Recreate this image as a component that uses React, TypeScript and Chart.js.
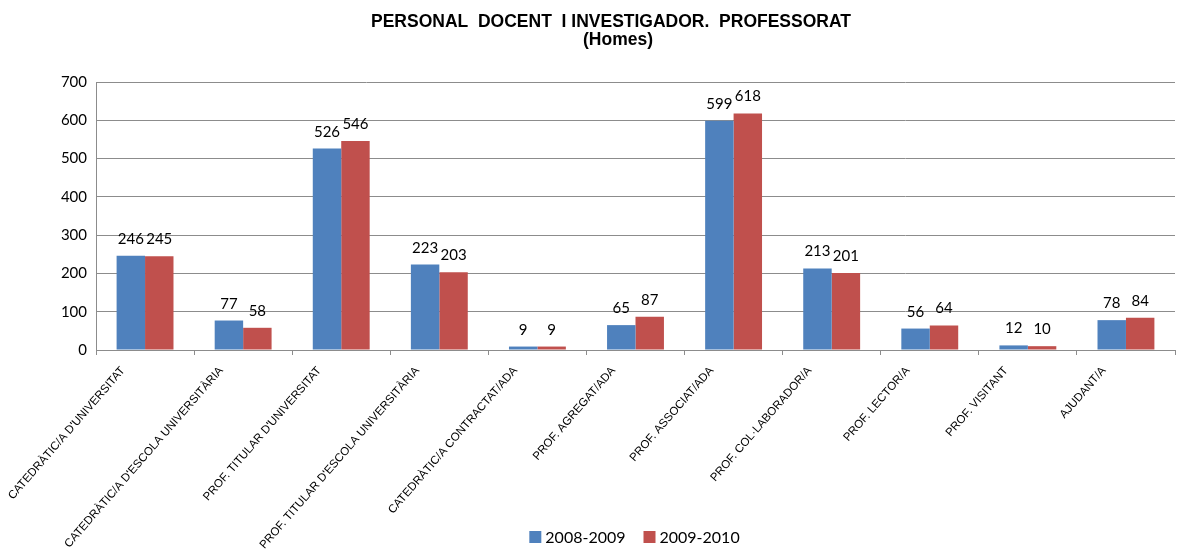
import React, { useEffect, useRef } from 'react';
import { Chart, registerables } from 'chart.js';

Chart.register(...registerables);

const titleLines = ['PERSONAL  DOCENT  I INVESTIGADOR.  PROFESSORAT', '(Homes)'];

const categories = [
  "CATEDRÀTIC/A D'UNIVERSITAT",
  "CATEDRÀTIC/A D'ESCOLA UNIVERSITÀRIA",
  "PROF. TITULAR D'UNIVERSITAT",
  "PROF. TITULAR D'ESCOLA UNIVERSITÀRIA",
  'CATEDRÀTIC/A CONTRACTAT/ADA',
  'PROF. AGREGAT/ADA',
  'PROF. ASSOCIAT/ADA',
  'PROF. COL·LABORADOR/A',
  'PROF. LECTOR/A',
  'PROF. VISITANT',
  'AJUDANT/A',
];

const seriesNames = ['2008-2009', '2009-2010'];
const values2008 = [246, 77, 526, 223, 9, 65, 599, 213, 56, 12, 78];
const values2009 = [245, 58, 546, 203, 9, 87, 618, 201, 64, 10, 84];

const yMin = 0;
const yMax = 700;
const yStep = 100;

const colors = ['#4F81BD', '#C0504D'];
const gridColor = '#8c8c8c';
const numFont = 'Lato, "Open Sans", sans-serif';
const labelFont = '"Liberation Sans", Arial, sans-serif';

const overlayPlugin = {
  id: 'overlay',
  afterDatasetsDraw(chart: any) {
    const ctx = chart.ctx;
    ctx.save();
    ctx.fillStyle = '#000';
    ctx.font = `15px ${numFont}`;
    ctx.textAlign = 'center';
    ctx.textBaseline = 'alphabetic';
    chart.data.datasets.forEach((ds: any, di: number) => {
      const meta = chart.getDatasetMeta(di);
      meta.data.forEach((bar: any, i: number) => {
        ctx.fillText(String(ds.data[i]), bar.x, bar.y - 12);
      });
    });
    ctx.restore();
  },
  afterDraw(chart: any) {
    const ctx = chart.ctx;
    const area = chart.chartArea;
    ctx.save();
    // title
    ctx.fillStyle = '#000';
    ctx.textAlign = 'center';
    ctx.textBaseline = 'alphabetic';
    ctx.font = `bold 17.5px ${labelFont}`;
    ctx.fillText(titleLines[0], 611, 27);
    ctx.fillText(titleLines[1], 618, 45);
    // legend
    ctx.font = `16px ${numFont}`;
    const box = 12;
    const gapText = 4;
    const gapItems = 18;
    const widths = seriesNames.map((n) => ctx.measureText(n).width);
    const total = widths.reduce((a, w) => a + box + gapText + w, 0) + gapItems * (seriesNames.length - 1);
    let x = (area.left + area.right) / 2 - total / 2 - 1;
    const baseY = 543;
    ctx.textAlign = 'left';
    seriesNames.forEach((n, i) => {
      ctx.fillStyle = colors[i];
      ctx.fillRect(x, baseY - 12, box, box);
      x += box + gapText;
      ctx.fillStyle = '#000';
      ctx.fillText(n, x, baseY);
      x += widths[i] + gapItems;
    });
    ctx.restore();
  },
};

export default function App() {
  const ref = useRef<HTMLCanvasElement>(null);
  useEffect(() => {
    document.body.style.margin = '0';
    const canvas = ref.current!;
    const chart = new Chart(canvas, {
      type: 'bar',
      data: {
        labels: categories,
        datasets: [
          {
            label: seriesNames[0],
            data: values2008,
            backgroundColor: colors[0],
            categoryPercentage: 0.58,
            barPercentage: 1.0,
          },
          {
            label: seriesNames[1],
            data: values2009,
            backgroundColor: colors[1],
            categoryPercentage: 0.58,
            barPercentage: 1.0,
          },
        ],
      },
      options: {
        animation: false,
        responsive: false,
        maintainAspectRatio: false,
        devicePixelRatio: 1,
        layout: { padding: { top: 82, right: 12, left: 0, bottom: 0 } },
        plugins: {
          legend: { display: false },
          title: { display: false },
          tooltip: { enabled: false },
        },
        scales: {
          x: {
            offset: true,
            grid: {
              offset: true,
              drawOnChartArea: false,
              drawTicks: true,
              tickLength: 5,
              color: gridColor,
            },
            border: { color: gridColor },
            ticks: {
              minRotation: 49,
              maxRotation: 49,
              autoSkip: false,
              color: '#000',
              padding: 9,
              labelOffset: -22,
              font: { family: labelFont, size: 11.5 },
            },
            afterFit: (s: any) => {
              s.height = 203;
            },
          },
          y: {
            min: yMin,
            max: yMax,
            ticks: {
              stepSize: yStep,
              color: '#000',
              padding: 9,
              font: { family: numFont, size: 15 },
            },
            grid: { color: gridColor, drawTicks: false },
            border: { color: gridColor },
            afterFit: (s: any) => {
              s.width = 96;
            },
          },
        },
      },
      plugins: [overlayPlugin],
    });
    return () => chart.destroy();
  }, []);
  return (
    <canvas
      ref={ref}
      width={1187}
      height={553}
      style={{ display: 'block', width: 1187, height: 553 }}
    />
  );
}
